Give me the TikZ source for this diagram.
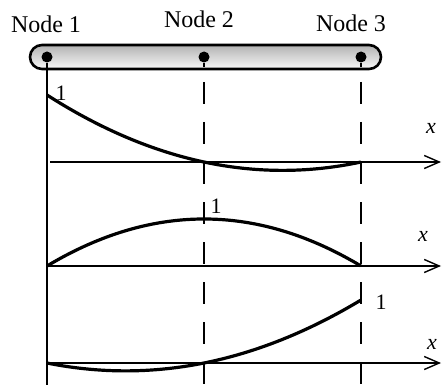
\documentclass[tikz,border=0pt]{standalone}
\usepackage{fontspec}
\setmainfont{Liberation Serif}
\usepackage{tikz}
\usetikzlibrary{arrows.meta, positioning}

\begin{document}
\begin{tikzpicture}[
    x=0.5pt, y=-0.5pt,
    bar/.style={rounded corners=6pt, draw=black, line width=1.3pt, top color=gray!60, bottom color=gray!5},
    dot/.style={circle, fill=black, inner sep=0pt, minimum size=5.5pt},
    axis/.style={-{Straight Barb[length=7.5pt, width=6.5pt]}, line width=0.7pt},
    guide/.style={line width=0.7pt, dash pattern=on 11pt off 9pt},
    curve/.style={line width=1.6pt},
    lab/.style={font=\fontsize{12}{14}\selectfont, anchor=base},
    one/.style={font=\fontsize{11}{12}\selectfont},
    xlab/.style={font=\fontsize{11}{12}\selectfont\itshape}
]
\useasboundingbox (0,0) rectangle (444,385);

% Element bar and nodes
\draw[bar] (30,45) rectangle (381,69);
\node[dot] (n1) at (47,57) {};
\node[dot] (n2) at (204,57) {};
\node[dot] (n3) at (361,57) {};

% Labels
\node[lab] (lab1) at (46,33) {Node 1};
\node[lab] (lab2) at (199,28) {Node 2};
\node[lab] (lab3) at (351,32) {Node 3};

% Guide lines
\coordinate (b1) at (47,385);
\coordinate (s2) at (204,67);
\coordinate (s3) at (361,67);
\coordinate (t2) at (204,82);
\coordinate (t3) at (361,82);
\coordinate (b2) at (204,385);
\coordinate (b3) at (361,385);
\draw[line width=0.8pt] (n1) -- (b1);
\draw[line width=0.9pt] (n2) -- (s2);
\draw[line width=0.9pt] (n3) -- (s3);
\draw[guide] (t2) -- (b2);
\draw[guide] (t3) -- (b3);

% Axes
\coordinate (o1) at (50,162);  \coordinate (e1) at (441,162);
\coordinate (o2) at (47,266);  \coordinate (e2) at (441,266);
\coordinate (o3) at (47,363);  \coordinate (e3) at (441,363);
\draw[axis] (o1) -- (e1);
\draw[axis] (o2) -- (e2);
\draw[axis] (o3) -- (e3);
\node[xlab] (x1) at (431,128) {x};
\node[xlab] (x2) at (423,236) {x};
\node[xlab] (x3) at (432,344) {x};

% Shape functions
\draw[curve] plot[domain=0:1, samples=60, smooth] ({47+314*\x}, {162-67*2*(\x-0.5)*(\x-1)});
\draw[curve] plot[domain=0:1, samples=60, smooth] ({47+314*\x}, {266-47*4*\x*(1-\x)});
\draw[curve] plot[domain=0:1, samples=60, smooth] ({47+314*\x}, {363-63*\x*(2*\x-1)});
\node[one] (one1) at (61,93) {1};
\node[one] (one2) at (216,206) {1};
\node[one] (one3) at (381,302) {1};

\end{tikzpicture}
\end{document}
